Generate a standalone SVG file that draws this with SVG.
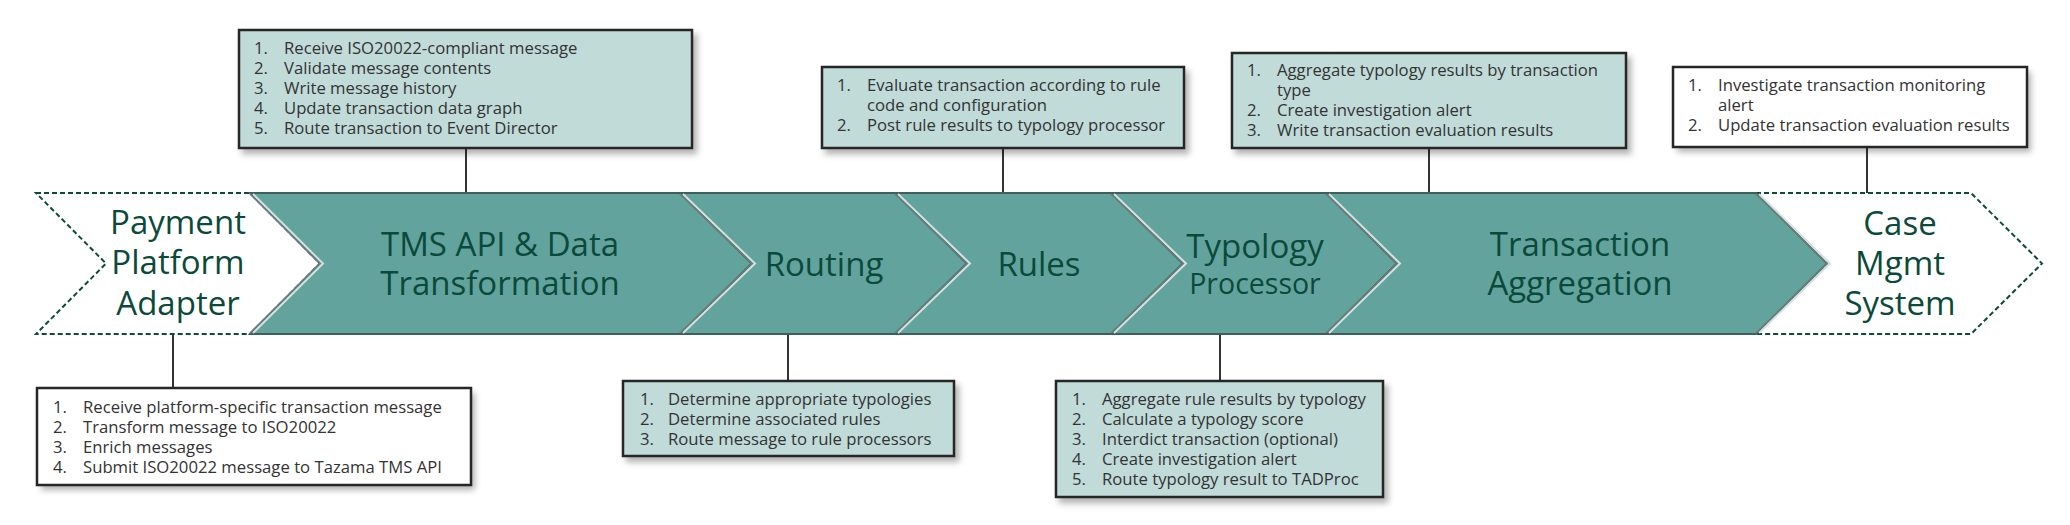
<svg xmlns="http://www.w3.org/2000/svg" width="2070" height="525" viewBox="0 0 2070 525">
<defs>
<filter id="shadow" x="-10%" y="-20%" width="130%" height="150%">
<feDropShadow dx="4" dy="5" stdDeviation="3" flood-color="#000" flood-opacity="0.3"/>
</filter>
<filter id="inner" x="0" y="0" width="100%" height="100%">
<feFlood flood-color="#000" flood-opacity="0.55" result="f"/>
<feComposite in="f" in2="SourceAlpha" operator="out" result="o"/>
<feGaussianBlur in="o" stdDeviation="3" result="b"/>
<feOffset in="b" dx="3" dy="3" result="ob"/>
<feComposite in="ob" in2="SourceAlpha" operator="in" result="is"/>
<feMerge><feMergeNode in="SourceGraphic"/><feMergeNode in="is"/></feMerge>
</filter>
<style>
.teal{fill:#63a39e;stroke:#3f5f5b;stroke-width:2}
.sep{fill:none;stroke:#d3e2e0;stroke-width:2}
.sepd{fill:none;stroke:#6f7f7d;stroke-width:1.5}
.open{fill:#ffffff;stroke:#0d4a3a;stroke-width:2;stroke-dasharray:5 3}
.lbl{font-family:"Open Sans","Liberation Sans",sans-serif;font-size:33px;fill:#0b4a3a;text-anchor:middle}
.lbl28{font-size:28.5px}
.box{fill:#c1dbd9;stroke:#262626;stroke-width:2.5}
.wbox{fill:#ffffff}
.wboxs{fill:none;stroke:#262626;stroke-width:2.5}
.t{font-family:"Open Sans","Liberation Sans",sans-serif;font-size:16.7px;fill:#333333}
.conn{stroke:#333333;stroke-width:2;fill:none}
</style>
</defs>
<rect width="2070" height="525" fill="#ffffff"/>

<g id="connectors">
<line class="conn" x1="466" y1="148" x2="466" y2="193"/>
<line class="conn" x1="1003" y1="148" x2="1003" y2="193"/>
<line class="conn" x1="1429" y1="148" x2="1429" y2="193"/>
<line class="conn" x1="1867" y1="147" x2="1867" y2="193"/>
<line class="conn" x1="173" y1="334" x2="173" y2="388"/>
<line class="conn" x1="788" y1="334" x2="788" y2="381"/>
<line class="conn" x1="1220" y1="334" x2="1220" y2="381"/>
</g>

<g id="payment">
<polygon class="open" points="36,193 250,193 320,263.5 250,334 36,334 106,263.5"/>
<text class="lbl"><tspan x="178" y="234">Payment</tspan><tspan x="178" y="274">Platform</tspan><tspan x="178" y="315">Adapter</tspan></text>
</g>

<g id="case">
<polygon class="open" points="1756,193 1971,193 2042,263.5 1971,334 1756,334 1827,263.5"/>
<text class="lbl"><tspan x="1900" y="235">Case</tspan><tspan x="1900" y="275">Mgmt</tspan><tspan x="1900" y="315">System</tspan></text>
</g>

<g id="tms">
<polygon class="teal" points="250,193 680,193 752,263.5 680,334 250,334 320,263.5"/>
<text class="lbl"><tspan x="500" y="256">TMS API &amp; Data</tspan><tspan x="500" y="295">Transformation</tspan></text>
</g>

<g id="routing">
<polygon class="teal" points="680,193 895,193 967,263.5 895,334 680,334 752,263.5"/>
<text class="lbl" x="824" y="276">Routing</text>
</g>

<g id="rules">
<polygon class="teal" points="895,193 1111,193 1183,263.5 1111,334 895,334 967,263.5"/>
<text class="lbl" x="1039" y="276">Rules</text>
</g>

<g id="typology">
<polygon class="teal" points="1111,193 1326,193 1397,263.5 1326,334 1111,334 1183,263.5"/>
<text class="lbl"><tspan x="1255" y="258">Typology</tspan><tspan class="lbl28" x="1255" y="294">Processor</tspan></text>
</g>

<g id="aggregation">
<polygon class="teal" points="1326,193 1756,193 1827,263.5 1756,334 1326,334 1397,263.5"/>
<text class="lbl"><tspan x="1580" y="256">Transaction</tspan><tspan x="1580" y="295">Aggregation</tspan></text>
</g>

<g id="separators">
<polyline class="sepd" points="250,194 320,263.5 250,333"/>
<polyline class="sep" points="253,194 323,263.5 253,333"/>
<polyline class="sepd" points="680,194 752,263.5 680,333"/>
<polyline class="sep" points="683,194 755,263.5 683,333"/>
<polyline class="sepd" points="895,194 967,263.5 895,333"/>
<polyline class="sep" points="898,194 970,263.5 898,333"/>
<polyline class="sepd" points="1111,194 1183,263.5 1111,333"/>
<polyline class="sep" points="1114,194 1186,263.5 1114,333"/>
<polyline class="sepd" points="1326,194 1397,263.5 1326,333"/>
<polyline class="sep" points="1329,194 1400,263.5 1329,333"/>
<polyline class="sepd" points="1756,194 1827,263.5 1756,333"/>
<polyline class="sep" points="1759,194 1830,263.5 1759,333"/>
</g>

<g id="box-tms">
<rect class="box" x="239" y="30" width="453" height="118" filter="url(#shadow)"/>
<text class="t" x="254" y="54">1.</text><text class="t" x="284" y="54">Receive ISO20022-compliant message</text>
<text class="t" x="254" y="74">2.</text><text class="t" x="284" y="74">Validate message contents</text>
<text class="t" x="254" y="94">3.</text><text class="t" x="284" y="94">Write message history</text>
<text class="t" x="254" y="114">4.</text><text class="t" x="284" y="114">Update transaction data graph</text>
<text class="t" x="254" y="134">5.</text><text class="t" x="284" y="134">Route transaction to Event Director</text>
</g>

<g id="box-rules">
<rect class="box" x="822" y="67" width="362" height="81" filter="url(#shadow)"/>
<text class="t" x="837" y="91">1.</text><text class="t" x="867" y="91">Evaluate transaction according to rule</text>
<text class="t" x="867" y="111">code and configuration</text>
<text class="t" x="837" y="131">2.</text><text class="t" x="867" y="131">Post rule results to typology processor</text>
</g>

<g id="box-aggregation">
<rect class="box" x="1232" y="53" width="394" height="95" filter="url(#shadow)"/>
<text class="t" x="1247" y="76">1.</text><text class="t" x="1277" y="76">Aggregate typology results by transaction</text>
<text class="t" x="1277" y="96">type</text>
<text class="t" x="1247" y="116">2.</text><text class="t" x="1277" y="116">Create investigation alert</text>
<text class="t" x="1247" y="136">3.</text><text class="t" x="1277" y="136">Write transaction evaluation results</text>
</g>

<g id="box-case">
<g filter="url(#shadow)"><rect class="wbox" x="1673" y="67" width="354" height="80" filter="url(#inner)"/></g>
<rect class="wboxs" x="1673" y="67" width="354" height="80"/>
<text class="t" x="1688" y="91">1.</text><text class="t" x="1718" y="91">Investigate transaction monitoring</text>
<text class="t" x="1718" y="111">alert</text>
<text class="t" x="1688" y="131">2.</text><text class="t" x="1718" y="131">Update transaction evaluation results</text>
</g>

<g id="box-payment">
<g filter="url(#shadow)"><rect class="wbox" x="37" y="388" width="434" height="97" filter="url(#inner)"/></g>
<rect class="wboxs" x="37" y="388" width="434" height="97"/>
<text class="t" x="53" y="413">1.</text><text class="t" x="83" y="413">Receive platform-specific transaction message</text>
<text class="t" x="53" y="433">2.</text><text class="t" x="83" y="433">Transform message to ISO20022</text>
<text class="t" x="53" y="453">3.</text><text class="t" x="83" y="453">Enrich messages</text>
<text class="t" x="53" y="473">4.</text><text class="t" x="83" y="473">Submit ISO20022 message to Tazama TMS API</text>
</g>

<g id="box-routing">
<rect class="box" x="623" y="381" width="331" height="75" filter="url(#shadow)"/>
<text class="t" x="640" y="405">1.</text><text class="t" x="668" y="405">Determine appropriate typologies</text>
<text class="t" x="640" y="425">2.</text><text class="t" x="668" y="425">Determine associated rules</text>
<text class="t" x="640" y="445">3.</text><text class="t" x="668" y="445">Route message to rule processors</text>
</g>

<g id="box-typology">
<rect class="box" x="1056" y="381" width="327" height="116" filter="url(#shadow)"/>
<text class="t" x="1072" y="405">1.</text><text class="t" x="1102" y="405">Aggregate rule results by typology</text>
<text class="t" x="1072" y="425">2.</text><text class="t" x="1102" y="425">Calculate a typology score</text>
<text class="t" x="1072" y="445">3.</text><text class="t" x="1102" y="445">Interdict transaction (optional)</text>
<text class="t" x="1072" y="465">4.</text><text class="t" x="1102" y="465">Create investigation alert</text>
<text class="t" x="1072" y="485">5.</text><text class="t" x="1102" y="485">Route typology result to TADProc</text>
</g>
</svg>
